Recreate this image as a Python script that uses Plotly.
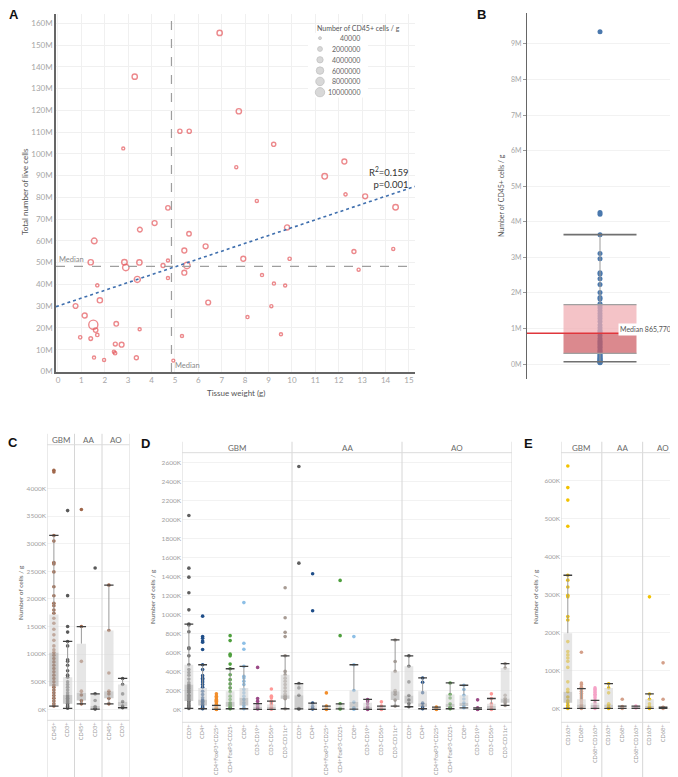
import plotly.graph_objects as go

W, H = 678, 777
FONT = "Lato, 'Open Sans', sans-serif"

def fx(p):
    return p / W

def fy(p):
    return 1 - p / H

# ---------------- Panel A data ----------------
A_WEIGHT = [6.91, 3.28, 7.73, 5.21, 5.61, 2.79, 9.22, 7.62, 12.24, 11.4, 12.29, 8.5, 13.13, 14.43,
            4.7, 4.13, 3.5, 5.6, 1.55, 5.4, 6.31, 7.92, 9.79, 9.9, 1.4, 2.84, 3.48, 2.9, 4.49, 4.7,
            5.51, 5.4, 4.7, 3.39, 1.68, 1.79, 0.75, 1.14, 1.51, 1.61, 2.49, 3.49, 0.95, 1.4, 1.68,
            2.45, 2.72, 2.39, 2.44, 3.35, 1.54, 1.97, 5.3, 6.42, 8.1, 8.72, 9.23, 9.71, 9.12, 9.53,
            12.65, 14.33, 12.85, 4.93]
A_LIVE_M = [155.6, 135.5, 119.6, 110.4, 110.4, 102.5, 104.4, 93.9, 96.5, 89.7, 81.4, 78.4, 80.5, 75.5,
            75.2, 68.2, 65.2, 63.3, 60.0, 55.6, 57.5, 51.8, 66.2, 51.8, 50.2, 50.2, 50.1, 47.8, 48.7, 51.0,
            48.7, 45.4, 42.9, 42.3, 39.6, 32.7, 30.1, 25.7, 21.5, 19.0, 21.9, 19.4, 15.7, 15.1, 16.8,
            12.6, 12.3, 9.1, 8.4, 6.3, 6.4, 5.3, 16.3, 31.7, 25.0, 44.3, 40.4, 39.5, 30.0, 17.1,
            55.1, 56.3, 46.8, 5.0]
A_CD45_M = [2.5, 2.5, 2.5, 1.2, 1.2, 0.1, 1.2, 0.2, 2.0, 2.9, 0.3, 0.2, 2.0, 2.8,
            1.5, 2.0, 1.8, 1.5, 3.1, 2.0, 2.0, 2.0, 2.2, 0.3, 2.5, 2.8, 2.5, 4.2, 1.0, 0.2,
            4.2, 2.0, 0.2, 3.6, 0.3, 2.4, 1.8, 2.2, 9.4, 1.5, 1.6, 0.2, 0.4, 0.7, 0.5,
            0.9, 1.9, 0.2, 0.5, 1.0, 0.2, 0.2, 0.2, 1.9, 0.2, 0.2, 0.2, 0.2, 0.2, 0.2,
            1.0, 0.2, 0.2, 0.1]
A_MEDIAN_WEIGHT = 4.85
A_MEDIAN_LIVE_M = 48.3
A_TREND_INTERCEPT = 30.1
A_TREND_SLOPE = 3.6
A_R2_TEXT = "R<sup>2</sup>=0.159"
A_P_TEXT = "p=0.001"
LEGEND_SIZES = [40000, 2000000, 4000000, 6000000, 8000000, 10000000]
A_XTICKS = list(range(0, 16))
A_YTICKS_M = list(range(0, 161, 10))

# ---------------- Panel B data ----------------
B_CD45_M = [9.34, 4.26, 4.21, 3.64, 3.11, 2.96, 2.57, 2.53, 2.40, 2.24, 2.01, 1.87, 1.83, 1.70,
            1.64, 1.58, 1.50, 1.42, 1.35, 1.28, 1.20, 1.10, 1.02, 0.95, 0.90, 0.87, 0.80, 0.72,
            0.66, 0.62, 0.58, 0.54, 0.49, 0.45, 0.40, 0.36, 0.32, 0.29, 0.26, 0.23, 0.20, 0.17,
            0.15, 0.13, 0.11, 0.09, 0.07, 0.06, 0.05, 0.04]
B_STATS_M = [0.065, 0.30, 0.866, 1.67, 3.64]   # low whisker, Q1, median, Q3, high whisker
B_MEDIAN_LABEL = "Median 865,770"
B_YTICKS_M = list(range(0, 10))

# ---------------- Panel C data (K cells / g) ----------------
C_GROUPS = ["GBM", "AA", "AO"]
C_MARKERS = ["CD45+", "CD3+"]
C_POINTS = [
    [4330, 4300, 3150, 3048, 2658, 2634, 2490, 2220, 2058, 1920, 1878, 1800, 1740, 1650, 1560, 1450,
     1350, 1250, 1150, 1080, 1030, 980, 920, 860, 800, 740, 680, 620, 560, 500, 440, 400, 350, 300,
     250, 200, 150, 100, 60],
    [3600, 2060, 1500, 1400, 1230, 1150, 900, 870, 800, 700, 620, 580, 500, 450, 400, 350, 300, 260,
     230, 200, 170, 140, 110, 80, 50, 20],
    [3620, 1500, 870, 330, 260, 160, 100],
    [2560, 280, 160, 50, 20, 5],
    [2250, 1430, 660, 330, 280, 200, 100],
    [560, 450, 280, 140, 60, 30],
]
C_STATS = [[60, 420, 1030, 1720, 3150], [20, 100, 260, 580, 1230], [100, 160, 300, 1190, 1500],
           [5, 20, 60, 280, 280], [100, 200, 330, 1430, 2250], [30, 50, 140, 450, 560]]
C_COLORS = ["#a0674b", "#595959"]
C_YTICKS = list(range(0, 4001, 500))

# ---------------- Panel D data (K cells / g) ----------------
D_GROUPS = ["GBM", "AA", "AO"]
D_MARKERS = ["CD3+", "CD4+", "CD4+FoxP3+CD25+", "CD4+FoxP3-CD25-", "CD8+", "CD3-CD19+", "CD3-CD56+", "CD3-CD11c+"]
D_POINTS = [
    # GBM
    [2045, 1490, 1395, 1230, 1050, 900, 890, 820, 650, 640, 565, 470, 420, 390, 360, 320, 280, 260, 240,
     220, 200, 180, 150, 130, 110, 95, 80, 60, 40, 25, 10],
    [984, 768, 750, 722, 708, 632, 471, 420, 356, 330, 314, 290, 262, 234, 192, 157, 122, 100, 87, 70, 52, 35, 20, 7],
    [164, 140, 122, 105, 95, 87, 70, 55, 42, 35, 25, 17, 10, 5, 2, 0],
    [778, 726, 583, 565, 478, 429, 366, 314, 269, 227, 185, 140, 105, 70, 52, 35, 17, 7],
    [1127, 698, 635, 454, 349, 332, 297, 262, 210, 175, 140, 105, 70, 42, 17, 7],
    [443, 115, 87, 60, 42, 28, 15, 5],
    [216, 140, 122, 87, 70, 52, 35, 20, 10, 3],
    [1284, 967, 813, 768, 565, 401, 366, 330, 297, 262, 227, 192, 160, 140, 120, 112, 7],
    # AA
    [2562, 1543, 272, 227, 150, 10, 5],
    [1431, 1040, 66, 30, 10, 5],
    [174, 35, 10, 0],
    [1361, 778, 59, 12, 5],
    [768, 471, 199, 77, 17, 3],
    [105, 90, 60, 28, 7, 0],
    [80, 35, 15, 5, 0],
    [733, 506, 401, 200, 185, 160, 98, 35],
    # AO
    [565, 454, 290, 147, 100, 63, 28],
    [332, 286, 175, 66, 28, 7],
    [25, 12, 5, 0],
    [279, 157, 120, 59, 24, 7],
    [255, 210, 150, 110, 70, 35, 17],
    [101, 17, 7, 3, 0],
    [164, 115, 59, 35, 7, 0],
    [482, 436, 150, 115, 90, 70, 42],
]
D_STATS = [
    [10, 90, 262, 471, 900], [7, 42, 105, 227, 471], [0, 7, 17, 35, 42], [7, 28, 77, 192, 429],
    [7, 42, 122, 227, 454], [0, 10, 28, 55, 62], [0, 10, 28, 52, 87], [7, 112, 150, 366, 565],
    [5, 10, 150, 272, 272], [0, 7, 17, 59, 66], [0, 3, 10, 25, 35], [5, 7, 12, 50, 59],
    [3, 17, 77, 199, 471], [0, 7, 28, 70, 105], [0, 5, 15, 30, 35], [35, 98, 192, 401, 733],
    [28, 63, 147, 454, 565], [7, 28, 66, 192, 332], [0, 3, 8, 20, 25], [7, 24, 59, 157, 279],
    [17, 35, 70, 150, 255], [0, 3, 7, 17, 17], [0, 7, 35, 59, 115], [42, 70, 115, 436, 482],
]
D_COLORS = ["#5f5f5f", "#1f4e89", "#f28e2b", "#4e9f3d", "#8dbfe6", "#9b4a87", "#ff9896", "#a79b93"]
D_YTICKS = list(range(0, 2601, 200))

# ---------------- Panel E data (K cells / g) ----------------
E_GROUPS = ["GBM", "AA", "AO"]
E_MARKERS = ["CD163+", "CD68+", "CD68+CD163+"]
E_POINTS = [
    [639, 582, 549, 480, 351, 338, 320, 298, 294, 242, 233, 176, 150, 141, 133, 124, 108, 70, 50, 44,
     30, 20, 15, 8, 3, 0],
    [148, 67, 63, 56, 52, 45, 40, 35, 30, 25, 20, 15, 10, 5, 2, 0],
    [54, 50, 46, 42, 37, 33, 28, 21, 15, 9, 4, 0],
    [65, 54, 41, 12, 10, 3, 0],
    [24, 5, 2, 0],
    [6, 3, 1],
    [294, 38, 24, 12, 6, 3, 0],
    [120, 24, 3, 2, 0],
    [65, 9, 2, 0],
]
E_STATS = [[0, 15, 44, 198, 351], [0, 3, 10, 24, 52], [0, 2, 9, 15, 21],
           [0, 3, 10, 54, 65], [0, 1, 2, 5, 6], [0, 1, 3, 6, 6],
           [0, 3, 6, 24, 38], [0, 1, 2, 3, 3], [0, 0, 1, 2, 2]]
E_COLORS = ["#f2c200", "#d4a08a", "#f5a3c7"]
E_YTICKS = list(range(0, 601, 100))


def size_px(v_million):
    return (8 + 8 * v_million) ** 0.5


fig = go.Figure()

# ================= Panel A =================
fig.add_trace(go.Scatter(
    x=A_WEIGHT, y=A_LIVE_M, mode="markers", xaxis="x", yaxis="y",
    marker=dict(symbol="circle-open", size=[size_px(v) for v in A_CD45_M],
                color="#e4575b", line=dict(width=1.4, color="#e4575b")),
    hoverinfo="skip"))
xr_a = [-0.085, 15.26]
fig.add_trace(go.Scatter(
    x=xr_a, y=[A_TREND_INTERCEPT + A_TREND_SLOPE * v for v in xr_a], mode="lines",
    xaxis="x", yaxis="y", line=dict(color="#3f6fae", width=1.6, dash="dot"), hoverinfo="skip"))

# legend (size) overlay
fig.add_trace(go.Scatter(
    x=[0.2] * len(LEGEND_SIZES), y=list(range(len(LEGEND_SIZES))), mode="markers",
    xaxis="x6", yaxis="y6",
    marker=dict(size=[size_px(s / 1e6) for s in LEGEND_SIZES], color="#c8c8c8",
                line=dict(width=0.8, color="#a8a8a8")),
    hoverinfo="skip"))

# ================= Panel B =================
fig.add_trace(go.Scatter(
    x=[0] * len(B_CD45_M), y=B_CD45_M, mode="markers", xaxis="x2", yaxis="y2",
    marker=dict(size=5, color="#4a78ad"), hoverinfo="skip"))
lo, q1, med, q3, hi = B_STATS_M
hw = 0.5
fig.add_trace(go.Scatter(x=[0, 0, None, 0, 0], y=[lo, q1, None, q3, hi], mode="lines",
                         line=dict(color="#9a9a9a", width=1), xaxis="x2", yaxis="y2", hoverinfo="skip"))
fig.add_trace(go.Scatter(x=[-hw, hw, hw, -hw, -hw], y=[q1, q1, med, med, q1], fill="toself",
                         fillcolor="rgba(205,92,98,0.72)", mode="lines", line=dict(width=0),
                         xaxis="x2", yaxis="y2", hoverinfo="skip"))
fig.add_trace(go.Scatter(x=[-hw, hw, hw, -hw, -hw], y=[med, med, q3, q3, med], fill="toself",
                         fillcolor="rgba(240,172,178,0.72)", mode="lines", line=dict(width=0),
                         xaxis="x2", yaxis="y2", hoverinfo="skip"))
fig.add_trace(go.Scatter(x=[-hw, hw, None, -hw, hw], y=[q1, q1, None, q3, q3], mode="lines",
                         line=dict(color="#a0a0a0", width=1.2), xaxis="x2", yaxis="y2", hoverinfo="skip"))
fig.add_trace(go.Scatter(x=[-hw, hw, None, -hw, hw], y=[lo, lo, None, hi, hi], mode="lines",
                         line=dict(color="#707070", width=1.6), xaxis="x2", yaxis="y2", hoverinfo="skip"))


# ================= Box panels C, D, E =================
def add_box_panel(xa, ya, points, stats, colors, hw, msize):
    for i, pts in enumerate(points):
        fig.add_trace(go.Scatter(x=[i] * len(pts), y=pts, mode="markers", xaxis=xa, yaxis=ya,
                                 marker=dict(size=msize, color=colors[i]), hoverinfo="skip"))
    lx, ly, ux, uy, wx, wy, cx, cy = [], [], [], [], [], [], [], []
    for i, (lo_, q1_, med_, q3_, hi_) in enumerate(stats):
        lx += [i - hw, i + hw, i + hw, i - hw, i - hw, None]
        ly += [q1_, q1_, med_, med_, q1_, None]
        ux += [i - hw, i + hw, i + hw, i - hw, i - hw, None]
        uy += [med_, med_, q3_, q3_, med_, None]
        wx += [i, i, None, i, i, None]
        wy += [lo_, q1_, None, q3_, hi_, None]
        cx += [i - hw, i + hw, None, i - hw, i + hw, None]
        cy += [lo_, lo_, None, hi_, hi_, None]
    fig.add_trace(go.Scatter(x=wx, y=wy, mode="lines", line=dict(color="#9a9a9a", width=1),
                             xaxis=xa, yaxis=ya, hoverinfo="skip"))
    fig.add_trace(go.Scatter(x=lx, y=ly, fill="toself", fillcolor="rgba(170,170,170,0.6)", mode="lines",
                             line=dict(width=0), xaxis=xa, yaxis=ya, hoverinfo="skip"))
    fig.add_trace(go.Scatter(x=ux, y=uy, fill="toself", fillcolor="rgba(214,214,214,0.6)", mode="lines",
                             line=dict(width=0), xaxis=xa, yaxis=ya, hoverinfo="skip"))
    fig.add_trace(go.Scatter(x=cx, y=cy, mode="lines", line=dict(color="#3f3f3f", width=1.3),
                             xaxis=xa, yaxis=ya, hoverinfo="skip"))


c_names = [m for g in C_GROUPS for m in C_MARKERS]
d_names = [m for g in D_GROUPS for m in D_MARKERS]
e_names = [m for g in E_GROUPS for m in E_MARKERS]
add_box_panel("x3", "y3", C_POINTS, C_STATS, C_COLORS * len(C_GROUPS), 0.34, 3.6)
add_box_panel("x4", "y4", D_POINTS, D_STATS, D_COLORS * len(D_GROUPS), 0.32, 3.6)
add_box_panel("x5", "y5", E_POINTS, E_STATS, E_COLORS * len(E_GROUPS), 0.32, 3.6)

# ================= Layout =================
tick_font_a = dict(family=FONT, size=8, color="#a6a6a6")
small_tick = dict(family=FONT, size=6.5, color="#a0a0a0")
cat_tick = dict(family=FONT, size=5.6, color="#999999")

layout = dict(
    width=W, height=H, margin=dict(l=0, r=0, t=0, b=0),
    paper_bgcolor="white", plot_bgcolor="white", showlegend=False,
    font=dict(family=FONT),
    xaxis=dict(domain=[fx(48), fx(407)], range=xr_a, anchor="y",
               tickvals=A_XTICKS, ticktext=[str(v) for v in A_XTICKS], tickfont=tick_font_a,
               showgrid=True, gridcolor="#f0f0f0", zeroline=False,
               showline=True, linecolor="#666", linewidth=1.5, ticks=""),
    yaxis=dict(domain=[fy(366), fy(6)], range=[-0.3, 164.3], anchor="x",
               tickvals=A_YTICKS_M, ticktext=[f"{v}M" for v in A_YTICKS_M], tickfont=tick_font_a,
               showgrid=True, gridcolor="#f0f0f0", zeroline=False,
               showline=True, linecolor="#666", linewidth=1.5, ticks=""),
    xaxis2=dict(domain=[fx(519), fx(665)], range=[-1, 1], anchor="y2", visible=False),
    yaxis2=dict(domain=[fy(373), fy(5)], range=[-0.42, 9.87], anchor="x2",
                tickvals=B_YTICKS_M, ticktext=[f"{v}M" for v in B_YTICKS_M],
                tickfont=dict(family=FONT, size=7, color="#a6a6a6"),
                showgrid=True, gridcolor="#f2f2f2", zeroline=False,
                showline=True, linecolor="#666", linewidth=1.3,
                ticks="outside", ticklen=3, tickcolor="#999"),
    xaxis3=dict(domain=[fx(39), fx(121.5)], range=[-0.5, len(c_names) - 0.5], anchor="y3",
                tickvals=list(range(len(c_names))), ticktext=c_names, tickangle=-90,
                tickfont=cat_tick, showgrid=False, zeroline=False, showline=False, ticks=""),
    yaxis3=dict(domain=[fy(716), fy(439)], range=[-198, 4793], anchor="x3",
                tickvals=C_YTICKS, ticktext=[f"{v}K" for v in C_YTICKS], tickfont=small_tick,
                showgrid=True, gridcolor="#f2f2f2", zeroline=False, showline=False, ticks=""),
    xaxis4=dict(domain=[fx(174), fx(504)], range=[-0.5, len(d_names) - 0.5], anchor="y4",
                tickvals=list(range(len(d_names))), ticktext=d_names, tickangle=-90,
                tickfont=cat_tick, showgrid=False, zeroline=False, showline=False, ticks=""),
    yaxis4=dict(domain=[fy(718), fy(447)], range=[-136, 2708], anchor="x4",
                tickvals=D_YTICKS, ticktext=[f"{v}K" for v in D_YTICKS], tickfont=small_tick,
                showgrid=True, gridcolor="#f2f2f2", zeroline=False, showline=False, ticks=""),
    xaxis5=dict(domain=[fx(553), fx(675.5)], range=[-0.5, len(e_names) - 0.5], anchor="y5",
                tickvals=list(range(len(e_names))), ticktext=e_names, tickangle=-90,
                tickfont=cat_tick, showgrid=False, zeroline=False, showline=False, ticks=""),
    yaxis5=dict(domain=[fy(718), fy(447)], range=[-36.7, 674], anchor="x5",
                tickvals=E_YTICKS, ticktext=[f"{v}K" for v in E_YTICKS], tickfont=small_tick,
                showgrid=True, gridcolor="#f2f2f2", zeroline=False, showline=False, ticks=""),
    xaxis6=dict(domain=[fx(300), fx(360)], range=[0, 1], anchor="y6", visible=False),
    yaxis6=dict(domain=[fy(90), fy(25)], range=[5.487, -0.487], anchor="x6", visible=False),
)
fig.update_layout(**layout)

shapes = []
ann = []

# Panel A median lines
shapes.append(dict(type="line", xref="x", yref="y domain", x0=A_MEDIAN_WEIGHT, x1=A_MEDIAN_WEIGHT,
                   y0=0, y1=1, line=dict(color="#9e9e9e", width=1.2, dash="dash")))
shapes.append(dict(type="line", xref="x domain", yref="y", x0=0, x1=1, y0=A_MEDIAN_LIVE_M,
                   y1=A_MEDIAN_LIVE_M, line=dict(color="#9e9e9e", width=1.2, dash="dash")))
ann.append(dict(text="Median", xref="paper", yref="y", x=fx(49), y=A_MEDIAN_LIVE_M, xanchor="left",
                yanchor="bottom", showarrow=False, font=dict(family=FONT, size=7.5, color="#8a8a8a")))
ann.append(dict(text="Median", xref="x", yref="paper", x=A_MEDIAN_WEIGHT, y=fy(366), xanchor="left",
                yanchor="bottom", xshift=2, showarrow=False, font=dict(family=FONT, size=7.5, color="#8a8a8a")))
ann.append(dict(text=A_R2_TEXT + "<br>" + A_P_TEXT, xref="paper", yref="paper", x=fx(403), y=fy(156),
                xanchor="right", yanchor="top", align="right", showarrow=False,
                font=dict(family=FONT, size=9.5, color="#333")))
# Axis titles A
ann.append(dict(text="Tissue weight (g)", xref="paper", yref="paper", x=fx(227.5), y=fy(387),
                xanchor="center", yanchor="middle", showarrow=False,
                font=dict(family=FONT, size=8, color="#555")))
ann.append(dict(text="Total number of live cells", xref="paper", yref="paper", x=fx(17), y=fy(185),
                textangle=-90, xanchor="center", yanchor="middle", showarrow=False,
                font=dict(family=FONT, size=8, color="#555")))
# legend
ann.append(dict(text="Number of CD45+ cells / g", xref="paper", yref="paper", x=fx(307), y=fy(20),
                xanchor="left", yanchor="middle", showarrow=False,
                font=dict(family=FONT, size=7, color="#555")))
for i, s in enumerate(LEGEND_SIZES):
    ann.append(dict(text=str(s), xref="paper", yref="y6", x=fx(354), y=i, xanchor="right",
                    yanchor="middle", showarrow=False, font=dict(family=FONT, size=7, color="#666")))

# Panel B
shapes.append(dict(type="line", xref="x2 domain", yref="y2", x0=0, x1=1, y0=B_STATS_M[2], y1=B_STATS_M[2],
                   line=dict(color="#e0363c", width=1.5)))
ann.append(dict(text=B_MEDIAN_LABEL, xref="paper", yref="y2", x=fx(665), y=B_STATS_M[2], xanchor="right",
                yanchor="bottom", yshift=-3, showarrow=False, bgcolor="white", borderpad=1,
                font=dict(family=FONT, size=7, color="#555")))
ann.append(dict(text="Number of CD45+ cells / g", xref="paper", yref="paper", x=fx(493), y=fy(189),
                textangle=-90, xanchor="center", yanchor="middle", showarrow=False,
                font=dict(family=FONT, size=7, color="#555")))


# facet decorations
def facets(xa, groups, per_group, header_y, top_y, bottom_y):
    bounds = [-0.5 + k * per_group for k in range(len(groups) + 1)]
    for b in bounds:
        shapes.append(dict(type="line", xref=xa, yref="paper", x0=b, x1=b, y0=0, y1=fy(header_y - 6),
                           line=dict(color="#d6d6d6", width=1)))
    for yy in (top_y, bottom_y):
        shapes.append(dict(type="line", xref=xa + " domain", yref="paper", x0=0, x1=1, y0=fy(yy), y1=fy(yy),
                           line=dict(color="#dcdcdc", width=1)))
    for k, g in enumerate(groups):
        ann.append(dict(text=g, xref=xa, yref="paper", x=k * per_group + (per_group - 1) / 2, y=fy(header_y),
                        xanchor="center", yanchor="middle", showarrow=False,
                        font=dict(family=FONT, size=8, color="#6a6a6a")))


facets("x3", C_GROUPS, len(C_MARKERS), 434, 439, 716)
facets("x4", D_GROUPS, len(D_MARKERS), 442, 447, 718)
facets("x5", E_GROUPS, len(E_MARKERS), 442, 447, 718)

for xpos, ypos in ((13, 588), (145, 592), (528, 592)):
    ann.append(dict(text="Number of cells / g", xref="paper", yref="paper", x=fx(xpos), y=fy(ypos),
                    textangle=-90, xanchor="center", yanchor="middle", showarrow=False,
                    font=dict(family=FONT, size=6.5, color="#555")))

# panel letters
for letter, xp, yp in (("A", 6, 7), ("B", 473, 7), ("C", 5, 437), ("D", 137, 438), ("E", 520, 438)):
    ann.append(dict(text="<b>" + letter + "</b>", xref="paper", yref="paper", x=fx(xp), y=fy(yp),
                    xanchor="center", yanchor="middle", showarrow=False,
                    font=dict(family="Liberation Sans, Arial, sans-serif", size=13, color="#111")))

fig.update_layout(shapes=shapes, annotations=ann)
fig.write_html("out.html")
